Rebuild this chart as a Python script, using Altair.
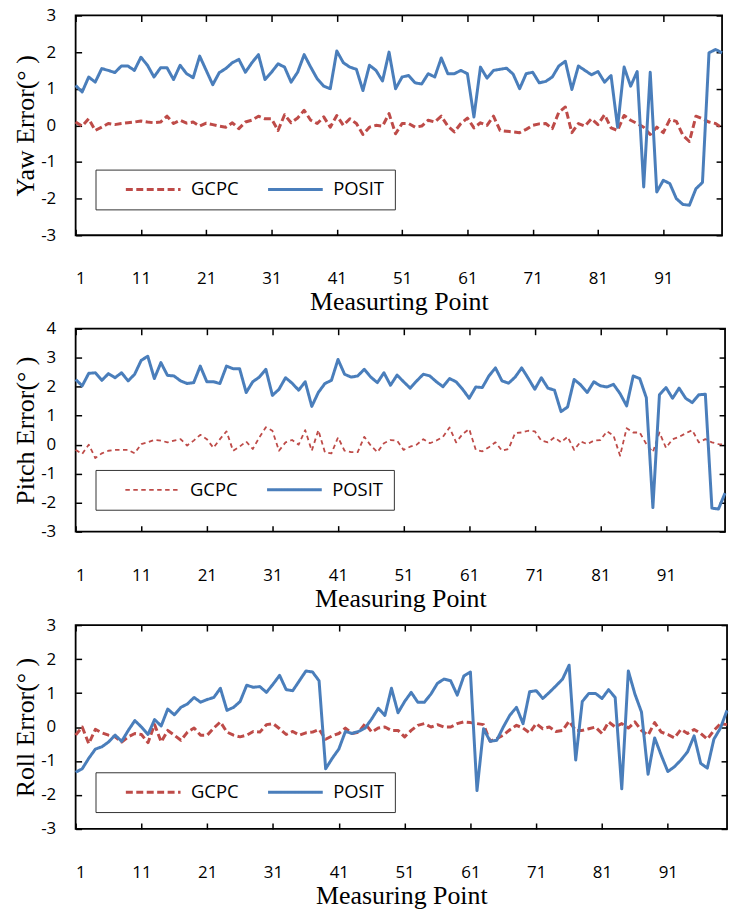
import altair as alt
import pandas as pd

points = list(range(1, 101))
series_names = ["GCPC", "POSIT"]
x_tick_values = [1, 11, 21, 31, 41, 51, 61, 71, 81, 91]

yaw_gcpc = [0.09, -0.02, 0.18, -0.14, -0.05, 0.05, 0.02, 0.05, 0.07, 0.09,
            0.12, 0.09, 0.07, 0.09, 0.25, 0.05, 0.14, 0.06, 0.09, -0.02,
            0.06, 0.02, -0.02, -0.05, 0.07, -0.09, 0.09, 0.14, 0.25, 0.18,
            0.18, -0.14, 0.29, 0.07, 0.2, 0.41, 0.14, 0.05, 0.23, -0.05,
            0.27, 0.0, 0.18, 0.05, -0.25, -0.05, 0.0, -0.02, 0.32, -0.23,
            0.05, 0.05, -0.05, -0.02, 0.14, 0.09, 0.25, -0.02, -0.18, 0.05,
            0.2, -0.07, 0.07, 0.0, 0.25, -0.14, -0.16, -0.18, -0.2, -0.11,
            0.0, 0.04, 0.05, -0.09, 0.36, 0.5, -0.2, 0.05, -0.02, 0.18,
            0.02, 0.29, -0.07, -0.14, 0.27, 0.14, 0.05, -0.05, -0.25, -0.05,
            -0.2, 0.16, 0.11, -0.27, -0.44, 0.25, 0.18, 0.09, 0.05, -0.07]
yaw_posit = [1.09, 0.91, 1.32, 1.18, 1.55, 1.5, 1.44, 1.62, 1.62, 1.5,
             1.86, 1.64, 1.32, 1.57, 1.57, 1.25, 1.64, 1.41, 1.3, 1.89,
             1.5, 1.11, 1.44, 1.55, 1.71, 1.8, 1.45, 1.71, 1.93, 1.25,
             1.45, 1.68, 1.59, 1.18, 1.45, 1.93, 1.59, 1.27, 1.07, 1.0,
             2.03, 1.71, 1.59, 1.53, 0.95, 1.64, 1.5, 1.21, 2.0, 1.0,
             1.32, 1.36, 1.16, 1.13, 1.41, 1.32, 1.84, 1.41, 1.41, 1.5,
             1.41, 0.23, 1.59, 1.29, 1.5, 1.53, 1.56, 1.4, 1.0, 1.41,
             1.45, 1.16, 1.2, 1.32, 1.62, 1.75, 0.98, 1.62, 1.5, 1.38,
             1.47, 1.18, 1.36, -0.05, 1.59, 1.07, 1.47, -1.68, 1.45, -1.82,
             -1.5, -1.59, -2.0, -2.16, -2.18, -1.73, -1.56, 1.98, 2.07, 1.98]

pitch_gcpc = [-0.18, -0.32, 0.0, -0.46, -0.3, -0.21, -0.18, -0.18, -0.18, -0.3,
              0.02, 0.08, 0.16, 0.14, 0.08, 0.14, 0.19, -0.03, 0.14, 0.34,
              0.19, -0.11, 0.19, 0.46, -0.21, -0.07, 0.11, -0.15, 0.25, 0.6,
              0.48, -0.21, 0.08, 0.16, 0.0, 0.5, -0.21, 0.5, -0.26, -0.3,
              0.25, -0.21, -0.26, -0.26, 0.27, -0.03, -0.26, 0.05, 0.16, 0.14,
              -0.18, -0.07, 0.0, 0.19, 0.05, 0.14, 0.27, 0.59, 0.08, 0.37,
              0.54, -0.18, -0.23, -0.09, 0.08, -0.21, -0.15, 0.4, 0.42, 0.48,
              0.46, 0.14, 0.08, 0.25, 0.08, 0.27, -0.18, 0.11, 0.02, 0.14,
              0.16, 0.46, 0.31, -0.38, 0.57, 0.42, 0.42, 0.02, -0.26, 0.42,
              -0.11, 0.19, 0.27, 0.39, 0.5, 0.08, 0.19, 0.08, 0.02, 0.0]
pitch_posit = [2.25, 2.03, 2.46, 2.48, 2.22, 2.45, 2.31, 2.48, 2.2, 2.43,
               2.91, 3.05, 2.28, 2.83, 2.39, 2.37, 2.2, 2.11, 2.14, 2.71,
               2.17, 2.17, 2.11, 2.71, 2.62, 2.62, 1.8, 2.17, 2.33, 2.6,
               1.7, 1.91, 2.31, 2.12, 1.88, 2.17, 1.32, 1.8, 2.11, 2.22,
               2.94, 2.43, 2.33, 2.37, 2.6, 2.33, 2.14, 2.48, 2.05, 2.4,
               2.17, 1.95, 2.2, 2.43, 2.37, 2.17, 2.0, 2.28, 2.17, 1.91,
               1.6, 1.99, 1.97, 2.37, 2.65, 2.2, 2.12, 2.33, 2.65, 2.29,
               1.91, 2.31, 1.95, 1.88, 1.14, 1.3, 2.25, 2.06, 1.8, 2.17,
               2.03, 1.99, 2.08, 1.76, 1.34, 2.37, 2.28, 1.62, -2.17, 1.72,
               1.97, 1.6, 1.95, 1.6, 1.45, 1.72, 1.74, -2.19, -2.22, -1.67]

roll_gcpc = [-0.24, 0.0, -0.49, -0.07, -0.17, -0.24, -0.29, -0.44, -0.29, -0.19,
             -0.22, -0.46, 0.07, -0.44, -0.1, -0.24, -0.39, -0.15, -0.03, -0.24,
             -0.24, -0.03, 0.15, -0.15, -0.24, -0.29, -0.24, -0.13, -0.15, 0.07,
             0.1, -0.05, -0.22, -0.13, -0.24, -0.17, -0.15, -0.07, -0.36, -0.26,
             -0.19, -0.03, -0.19, -0.15, 0.1, -0.15, -0.03, 0.0, -0.1, -0.1,
             -0.29, -0.1, 0.05, 0.1, 0.0, 0.07, 0.0, 0.0, 0.1, 0.15,
             0.13, 0.1, 0.07, -0.42, -0.34, -0.24, -0.08, 0.05, -0.03, -0.17,
             0.1, -0.05, 0.0, -0.13, -0.1, 0.17, -0.1, -0.1, -0.05, 0.0,
             -0.19, 0.15, 0.0, 0.1, -0.03, 0.15, -0.1, -0.24, 0.13, -0.15,
             -0.22, -0.32, -0.07, -0.19, -0.07, -0.19, -0.36, -0.1, 0.1, 0.07]
roll_posit = [-1.33, -1.23, -0.92, -0.65, -0.58, -0.44, -0.24, -0.42, -0.1, 0.19,
              0.0, -0.22, 0.22, 0.03, 0.53, 0.36, 0.58, 0.68, 0.87, 0.73,
              0.81, 0.87, 1.14, 0.49, 0.58, 0.75, 1.23, 1.17, 1.19, 1.02,
              1.26, 1.52, 1.1, 1.07, 1.36, 1.65, 1.62, 1.36, -1.23, -0.92,
              -0.65, -0.13, -0.19, -0.13, -0.03, 0.24, 0.55, 0.34, 1.14, 0.42,
              0.75, 1.02, 0.73, 0.73, 0.97, 1.29, 1.41, 1.36, 0.94, 1.5,
              1.62, -1.87, -0.05, -0.42, -0.39, 0.0, 0.35, 0.58, 0.1, 1.04,
              1.07, 0.84, 1.02, 1.21, 1.41, 1.82, -0.97, 0.75, 0.99, 0.99,
              0.84, 1.1, 0.87, -1.82, 1.65, 0.97, 0.44, -1.39, -0.32, -0.83,
              -1.31, -1.17, -0.97, -0.73, -0.26, -1.07, -1.21, -0.36, -0.03, 0.49]

RED = "#BE4B48"
BLUE = "#4A7EBB"
SANS = "Open Sans"
SERIF = "Liberation Serif"


def panel(gcpc, posit, y_title, x_title, y_ticks, width, height,
          gcpc_dash, gcpc_width, legend_y):
    df = pd.DataFrame({
        "pt": points + points,
        "val": gcpc + posit,
        "series": ["GCPC"] * len(gcpc) + ["POSIT"] * len(posit),
    })
    xscale = alt.Scale(domain=[1, 100], nice=False, zero=False)
    yscale = alt.Scale(domain=[y_ticks[0], y_ticks[-1]], nice=False, zero=False)
    legend = alt.Legend(
        title=None, orient="none", legendX=20, legendY=legend_y,
        direction="horizontal", symbolType="stroke", symbolSize=3025,
        clipHeight=20, padding=10, strokeColor="#333333", fillColor="white",
        symbolOffset=19, labelOffset=9, columnPadding=9,
        labelFont=SANS, labelFontSize=18.5, labelColor="black",
        labelExpr="datum.label == 'POSIT' ? 'POSIT      ' : datum.label",
    )
    bottom_axis = alt.Axis(orient="bottom", values=x_tick_values, offset=-6, tickSize=6,
                           labelPadding=36, title=x_title, titlePadding=2,
                           domain=False, grid=False)
    left_axis = alt.Axis(orient="left", values=y_ticks, offset=-6, tickSize=6,
                         labelPadding=20, title=y_title, titlePadding=2,
                         labelExpr="'' + datum.value",
                         domain=False, grid=False)
    top_axis = alt.Axis(orient="top", values=x_tick_values, offset=-6, tickSize=6,
                        labels=False, title=None, domain=False, grid=False)
    right_axis = alt.Axis(orient="right", values=y_ticks, offset=-6, tickSize=6,
                          labels=False, title=None, domain=False, grid=False)
    lines = alt.Chart(df).mark_line(strokeJoin="round", strokeCap="butt").encode(
        x=alt.X("pt:Q", scale=xscale, axis=bottom_axis),
        y=alt.Y("val:Q", scale=yscale, axis=left_axis),
        color=alt.Color("series:N", scale=alt.Scale(domain=series_names, range=[RED, BLUE]), legend=legend),
        strokeDash=alt.StrokeDash("series:N", scale=alt.Scale(domain=series_names, range=[gcpc_dash, [1, 0]]), legend=legend),
        strokeWidth=alt.StrokeWidth("series:N", scale=alt.Scale(domain=series_names, range=[gcpc_width, 3]), legend=legend),
    )
    ghost = alt.Chart(df).mark_line(opacity=0).encode(
        x=alt.X("pt:Q", scale=xscale, axis=top_axis),
        y=alt.Y("val:Q", scale=yscale, axis=right_axis),
        detail="series:N",
    )
    return alt.layer(lines, ghost).resolve_axis(x="independent", y="independent").properties(
        width=width, height=height)


p1 = panel(yaw_gcpc, yaw_posit, "Yaw Error(°  )", "Measurting Point",
           [-3, -2, -1, 0, 1, 2, 3], 650, 221, [7, 3.5], 3, 155)
p2 = panel(pitch_gcpc, pitch_posit, "Pitch Error(°  )", "Measuring Point",
           [-3, -2, -1, 0, 1, 2, 3, 4], 653, 204, [4.5, 3.5], 1.8, 142)
p3 = panel(roll_gcpc, roll_posit, "Roll Error(°  )", "Measuring Point",
           [-3, -2, -1, 0, 1, 2, 3], 655, 205, [7, 3.5], 3, 148)

chart = alt.vconcat(p1, p2, p3, spacing=3).resolve_scale(
    x="independent", y="independent", color="independent",
    strokeDash="independent", strokeWidth="independent",
).resolve_legend(
    color="independent", strokeDash="independent", strokeWidth="independent",
).properties(
    padding={"left": 3, "top": -5, "right": 2, "bottom": 0},
    background="white",
).configure_view(
    stroke="black", strokeWidth=1.8,
).configure_axis(
    labelFont=SANS, labelFontSize=17, labelColor="black",
    titleFont=SERIF, titleFontSize=26, titleFontWeight="normal", titleColor="black",
    tickColor="black", tickWidth=1.5,
)

chart.save("out.html", embed_options={"renderer": "svg", "actions": False})
